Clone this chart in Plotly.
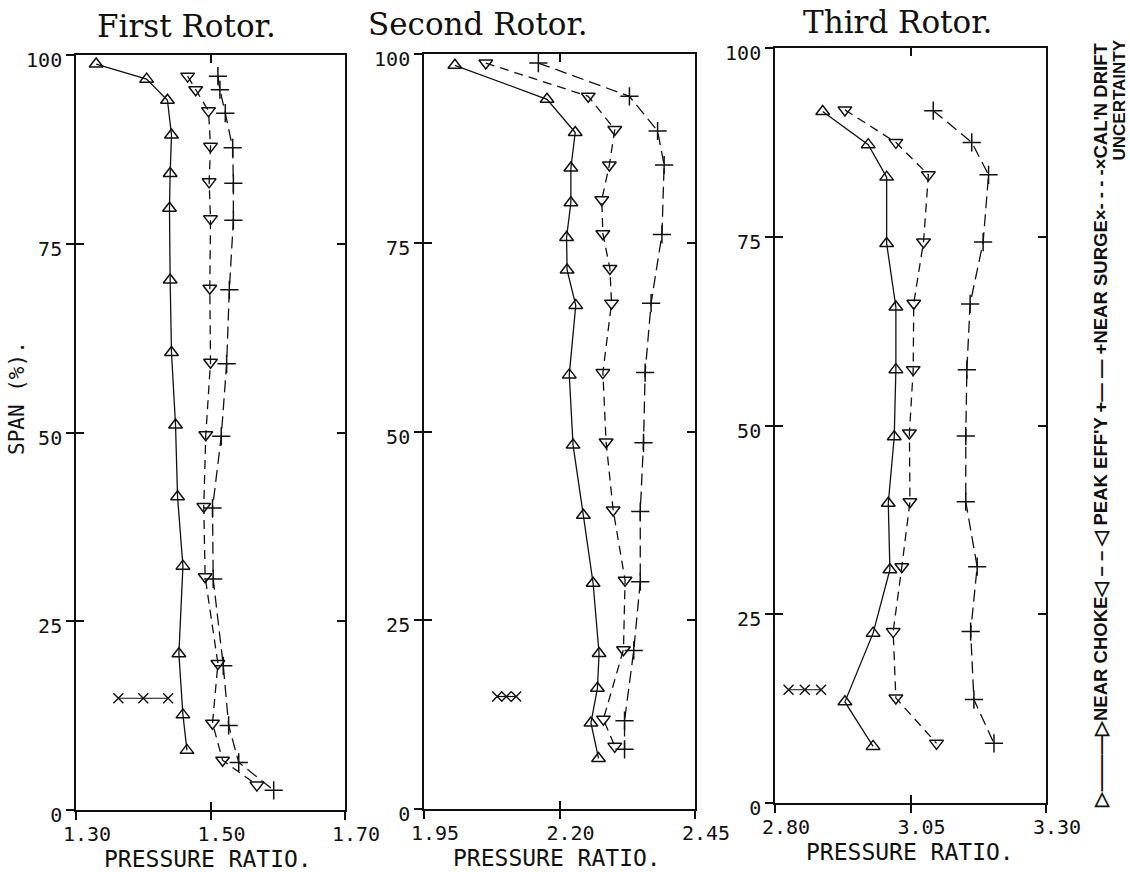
import plotly.graph_objects as go

W, H = 1130, 872

# ---- Rotor 1: spanwise total-pressure ratio ----
r1_choke_span = [98.8, 96.8, 94.0, 89.4, 84.3, 79.7, 70.2, 60.6, 51.0, 41.5, 32.3, 20.7, 12.6, 7.9]
r1_choke_pr = [1.330, 1.405, 1.436, 1.442, 1.440, 1.439, 1.440, 1.442, 1.448, 1.451, 1.459, 1.453, 1.459, 1.465]
r1_peak_span = [97.2, 95.4, 92.6, 87.9, 83.2, 78.3, 69.1, 59.3, 49.7, 40.2, 30.9, 19.4, 11.5, 6.6, 3.3]
r1_peak_pr = [1.466, 1.478, 1.497, 1.500, 1.498, 1.500, 1.499, 1.500, 1.493, 1.490, 1.492, 1.511, 1.503, 1.518, 1.569]
r1_surge_span = [97.2, 95.4, 92.3, 87.7, 83.0, 78.1, 68.9, 59.1, 49.5, 40.0, 30.6, 19.1, 11.2, 6.3, 2.6]
r1_surge_pr = [1.511, 1.514, 1.522, 1.533, 1.534, 1.534, 1.528, 1.524, 1.516, 1.503, 1.504, 1.519, 1.527, 1.542, 1.594]
r1_drift_span = [14.8, 14.8, 14.8]
r1_drift_pr = [1.363, 1.400, 1.437]

# ---- Rotor 2 ----
r2_choke_span = [98.5, 94.0, 89.6, 84.9, 80.3, 75.7, 71.4, 66.7, 57.5, 48.2, 38.9, 29.9, 20.6, 16.0, 11.4, 6.7]
r2_choke_pr = [2.007, 2.177, 2.229, 2.221, 2.221, 2.213, 2.214, 2.230, 2.218, 2.225, 2.244, 2.262, 2.273, 2.270, 2.258, 2.272]
r2_peak_span = [98.8, 94.4, 90.0, 85.3, 80.7, 76.2, 71.6, 67.0, 57.8, 48.6, 39.6, 30.3, 21.1, 11.9, 8.3]
r2_peak_pr = [2.064, 2.253, 2.302, 2.292, 2.278, 2.280, 2.293, 2.296, 2.280, 2.286, 2.299, 2.321, 2.318, 2.281, 2.302]
r2_surge_span = [98.8, 94.4, 89.8, 85.3, 76.1, 67.0, 57.8, 48.5, 39.4, 30.1, 21.0, 11.7, 7.9]
r2_surge_pr = [2.161, 2.329, 2.381, 2.393, 2.389, 2.369, 2.358, 2.355, 2.349, 2.349, 2.337, 2.320, 2.320]
r2_drift_span = [14.9, 14.9, 14.9]
r2_drift_pr = [2.085, 2.102, 2.120]

# ---- Rotor 3 ----
r3_choke_span = [91.6, 87.2, 82.9, 74.1, 65.7, 57.4, 48.5, 39.7, 30.9, 22.5, 13.4, 7.5]
r3_choke_pr = [2.888, 2.972, 3.006, 3.006, 3.023, 3.023, 3.020, 3.009, 3.012, 2.981, 2.929, 2.981]
r3_peak_span = [91.8, 87.5, 83.2, 74.3, 66.2, 57.4, 49.0, 39.9, 31.3, 22.7, 13.9, 7.9]
r3_peak_pr = [2.929, 3.023, 3.083, 3.074, 3.056, 3.055, 3.048, 3.049, 3.034, 3.018, 3.023, 3.098]
r3_surge_span = [91.7, 87.5, 83.2, 74.3, 66.1, 57.4, 48.6, 39.9, 31.3, 22.7, 13.7, 7.9]
r3_surge_pr = [3.092, 3.163, 3.194, 3.184, 3.160, 3.154, 3.152, 3.152, 3.173, 3.161, 3.167, 3.204]
r3_drift_span = [15.0, 15.0, 15.0]
r3_drift_pr = [2.825, 2.855, 2.885]

# ---- axes ----
panel_titles = ["First Rotor.", "Second Rotor.", "Third Rotor."]
x_ranges = [[1.30, 1.70], [1.95, 2.45], [2.80, 3.30]]
x_tickvals = [[1.30, 1.50, 1.70], [1.95, 2.20, 2.45], [2.80, 3.05, 3.30]]
x_ticktext = [["1.30", "1.50", "1.70"], ["1.95", "2.20", "2.45"], ["2.80", "3.05", "3.30"]]
y_tickvals = [0, 25, 50, 75, 100]
y_ticktext = ["0", "25", "50", "75", "100"]
x_title = "PRESSURE RATIO."
y_title = "SPAN (%)."

INK = "#111111"
MONO = "DejaVu Sans Mono, Liberation Mono, monospace"
SANS = "Liberation Sans, Arial, sans-serif"

# plot-area boxes in pixels (left, right, top, bottom)
boxes = [(76, 345, 55, 810), (424, 695, 54, 809), (775, 1046, 48, 803)]

panels = [
    (r1_choke_pr, r1_choke_span, r1_peak_pr, r1_peak_span, r1_surge_pr, r1_surge_span, r1_drift_pr, r1_drift_span),
    (r2_choke_pr, r2_choke_span, r2_peak_pr, r2_peak_span, r2_surge_pr, r2_surge_span, r2_drift_pr, r2_drift_span),
    (r3_choke_pr, r3_choke_span, r3_peak_pr, r3_peak_span, r3_surge_pr, r3_surge_span, r3_drift_pr, r3_drift_span),
]

fig = go.Figure()

for i, (cx, cy, px, py, sx, sy, dx, dy) in enumerate(panels, start=1):
    xa = "x" if i == 1 else f"x{i}"
    ya = "y" if i == 1 else f"y{i}"
    fig.add_trace(go.Scatter(
        x=cx, y=cy, xaxis=xa, yaxis=ya, mode="lines+markers", name="NEAR CHOKE",
        line=dict(color=INK, width=1.3),
        marker=dict(symbol="triangle-up-open", size=12, color=INK, line=dict(width=1.5, color=INK)),
        showlegend=False, cliponaxis=False))
    fig.add_trace(go.Scatter(
        x=px, y=py, xaxis=xa, yaxis=ya, mode="lines+markers", name="PEAK EFF'Y",
        line=dict(color=INK, width=1.3, dash="9px,6px"),
        marker=dict(symbol="triangle-down-open", size=12, color=INK, line=dict(width=1.5, color=INK)),
        showlegend=False, cliponaxis=False))
    fig.add_trace(go.Scatter(
        x=sx, y=sy, xaxis=xa, yaxis=ya, mode="lines+markers", name="NEAR SURGE",
        line=dict(color=INK, width=1.3, dash="12px,6px"),
        marker=dict(symbol="cross-thin-open", size=13, color=INK, line=dict(width=1.5, color=INK)),
        showlegend=False, cliponaxis=False))
    # the calibration-drift bar sits on the companion axes (same ranges)
    fig.add_trace(go.Scatter(
        x=dx, y=dy, xaxis=f"x{i + 3}", yaxis=f"y{i + 3}", mode="lines+markers",
        name="CAL'N DRIFT UNCERTAINTY",
        line=dict(color=INK, width=1.2),
        marker=dict(symbol="x-thin-open", size=10, color=INK, line=dict(width=1.4, color=INK)),
        showlegend=False, cliponaxis=False))

tick_font = dict(family=MONO, size=20, color=INK)
layout = dict(
    width=W, height=H, autosize=False,
    margin=dict(l=0, r=0, t=0, b=0, pad=0, autoexpand=False),
    paper_bgcolor="white", plot_bgcolor="white", showlegend=False,
)

for i in range(1, 4):
    l, r, t, b = boxes[i - 1]
    xdom = [l / W, r / W]
    ydom = [1 - b / H, 1 - t / H]
    xk = "xaxis" if i == 1 else f"xaxis{i}"
    yk = "yaxis" if i == 1 else f"yaxis{i}"
    ya = "y" if i == 1 else f"y{i}"
    xa = "x" if i == 1 else f"x{i}"
    layout[xk] = dict(
        domain=xdom, range=x_ranges[i - 1], anchor=ya, automargin=False,
        tickmode="array", tickvals=x_tickvals[i - 1], ticktext=x_ticktext[i - 1],
        ticks="outside", ticklen=8, tickwidth=1.5, tickcolor=INK,
        showline=True, linewidth=1.6, linecolor=INK, mirror=True,
        showgrid=False, zeroline=False, tickfont=tick_font,
        ticklabelshift=11, ticklabelstandoff=-3,
    )
    layout[yk] = dict(
        domain=ydom, range=[0, 100], anchor=xa, automargin=False,
        tickmode="array", tickvals=y_tickvals, ticktext=y_ticktext,
        ticks="outside", ticklen=8, tickwidth=1.5, tickcolor=INK,
        showline=True, linewidth=1.6, linecolor=INK, mirror=True,
        showgrid=False, zeroline=False, tickfont=tick_font, ticklabelshift=5,
    )
    # companion axes carrying the inward ticks on all four sides
    j = i + 3
    layout[f"xaxis{j}"] = dict(
        overlaying=xa, range=x_ranges[i - 1], anchor=f"y{j}", automargin=False,
        tickmode="array", tickvals=x_tickvals[i - 1][1:2],
        ticks="inside", ticklen=8, tickwidth=1.5, tickcolor=INK, mirror="ticks",
        showline=False, showticklabels=False, showgrid=False, zeroline=False,
    )
    layout[f"yaxis{j}"] = dict(
        overlaying=ya, range=[0, 100], anchor=f"x{j}", automargin=False,
        tickmode="array", tickvals=y_tickvals[1:4],
        ticks="inside", ticklen=8, tickwidth=1.5, tickcolor=INK, mirror="ticks",
        showline=False, showticklabels=False, showgrid=False, zeroline=False,
    )

fig.update_layout(**layout)

annotations = []
title_pos = [(186, 26), (478, 24), (897, 22)]
for (tx, ty), txt in zip(title_pos, panel_titles):
    annotations.append(dict(
        text=txt, x=tx / W, y=1 - ty / H, xref="paper", yref="paper",
        xanchor="center", yanchor="middle", showarrow=False,
        font=dict(family="DejaVu Serif, Liberation Serif, serif", size=31, color=INK)))

xt_pos = [(208, 845), (557, 844), (910, 838)]
for (tx, ty) in xt_pos:
    annotations.append(dict(
        text=x_title, x=tx / W, y=1 - ty / H, xref="paper", yref="paper",
        xanchor="center", yanchor="top", showarrow=False, borderpad=0,
        font=dict(family=MONO, size=23, color=INK)))

annotations.append(dict(
    text=y_title, x=17 / W, y=1 - 398 / H, xref="paper", yref="paper",
    xanchor="center", yanchor="middle", showarrow=False, textangle=-90,
    font=dict(family=MONO, size=21, color=INK)))

# key, written vertically along the right edge
key_line = "▷———▷NEAR CHOKE◁ – – ◁ PEAK EFF'Y +— — +NEAR SURGE×- - - -×CAL'N DRIFT"
annotations.append(dict(
    text=key_line, x=1100 / W, y=1 - 810 / H, xref="paper", yref="paper",
    xanchor="center", yanchor="bottom", showarrow=False, textangle=-90,
    font=dict(family=SANS, size=18.5, color=INK, weight="bold")))
annotations.append(dict(
    text="UNCERTAINTY", x=1119 / W, y=1 - 38 / H, xref="paper", yref="paper",
    xanchor="center", yanchor="top", showarrow=False, textangle=-90,
    font=dict(family=SANS, size=17, color=INK, weight="bold")))

fig.update_layout(annotations=annotations)

fig.write_html("out.html")
